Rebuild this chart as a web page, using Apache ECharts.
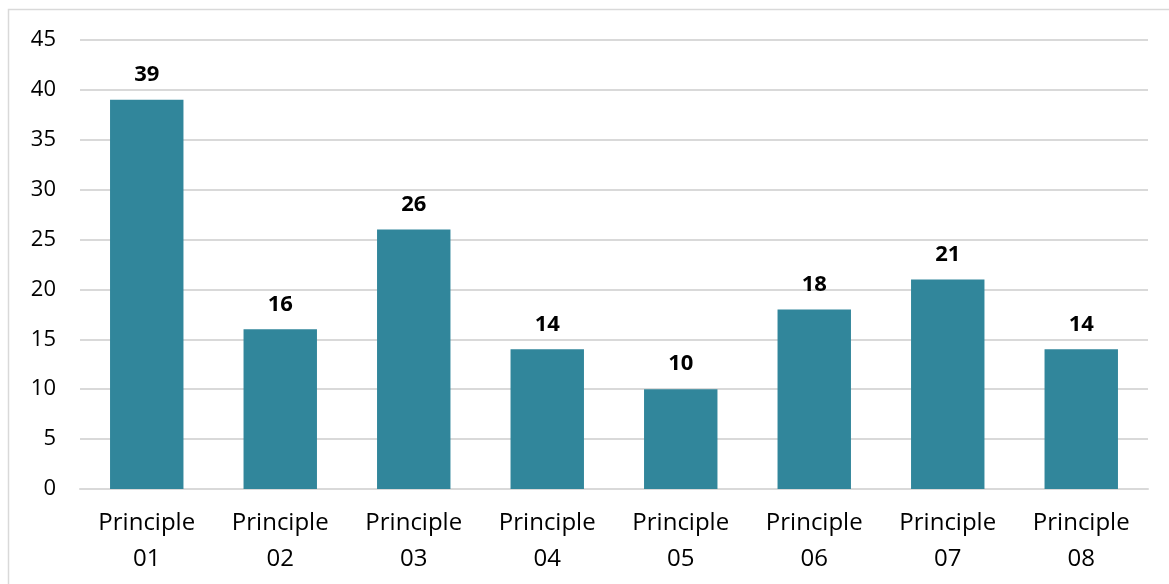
<!DOCTYPE html>
<html><head><meta charset="utf-8">
<script src="https://cdn.jsdelivr.net/npm/echarts@6/dist/echarts.min.js"></script>
<style>html,body{margin:0;padding:0;background:#fff}#c{width:1169px;height:584px}</style>
</head><body><div id="c"></div>
<script>
const categories = ['Principle\n01','Principle\n02','Principle\n03','Principle\n04','Principle\n05','Principle\n06','Principle\n07','Principle\n08'];
const values = [39,16,26,14,10,18,21,14];
const chart = echarts.init(document.getElementById('c'));
const font = '"Open Sans", "Liberation Sans", sans-serif';
chart.setOption({
  animation:false,
  graphic:[{type:'rect',shape:{x:8.5,y:9.5,width:1200,height:600},style:{fill:'none',stroke:'#d9d9d9',lineWidth:1.5},silent:true}],
  grid:{left:80,right:21,top:40,bottom:95,containLabel:false},
  xAxis:{type:'category',data:categories,
    axisLine:{show:true,lineStyle:{color:'#d9d9d9',width:2}},axisTick:{show:false},
    axisLabel:{color:'#000',fontFamily:font,fontSize:24,lineHeight:36,margin:16}},
  yAxis:{type:'value',min:0,max:45,interval:5,
    axisLine:{show:false},axisTick:{show:false},
    splitLine:{lineStyle:{color:'#d9d9d9',width:2}},
    axisLabel:{color:'#000',fontFamily:font,fontSize:22,margin:24}},
  series:[{type:'bar',data:values,barWidth:'55%',
    itemStyle:{color:'#31869B'},
    label:{show:true,position:'top',distance:14,color:'#000',fontWeight:'bold',fontFamily:font,fontSize:22}}]
});
</script></body></html>
